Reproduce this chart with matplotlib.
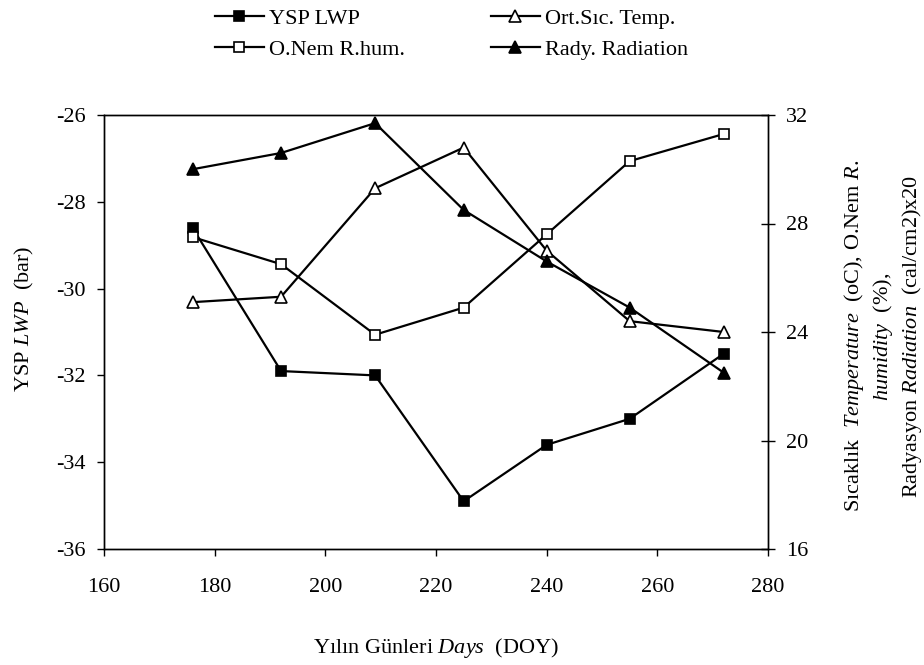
import matplotlib
matplotlib.use("Agg")
import matplotlib.pyplot as plt

plt.rcParams['font.family'] = ['Liberation Serif', 'DejaVu Serif']
plt.rcParams['mathtext.fontset'] = 'custom'
plt.rcParams['mathtext.rm'] = 'Liberation Serif'
plt.rcParams['mathtext.it'] = 'Liberation Serif:italic'
plt.rcParams['font.size'] = 16

# day of year
doy = [176, 192, 209, 225, 240, 255, 272]
# leaf water potential (bar), left axis
lwp = [-28.6, -31.9, -32.0, -34.9, -33.6, -33.0, -31.5]
# right axis series
temp = [25.1, 25.3, 29.3, 30.8, 27.0, 24.4, 24.0]
hum = [27.5, 26.5, 23.9, 24.9, 27.6, 30.3, 31.3]
rad = [30.0, 30.6, 31.7, 28.5, 26.6, 24.9, 22.5]

fig = plt.figure(figsize=(9.24, 6.65), dpi=100)
ax = fig.add_axes([104/924, 1 - 549/665, 664/924, 434/665])
ax2 = ax.twinx()

lw = 1.6
ms = 7.5
mew = 1.2
l1, = ax.plot(doy, lwp, color='black', lw=lw, marker='s', ms=ms,
              mfc='black', mec='black', mew=mew, label='YSP LWP')
l2, = ax2.plot(doy, hum, color='black', lw=lw, marker='s', ms=ms,
               mfc='white', mec='black', mew=mew, label='O.Nem R.hum.')
l3, = ax2.plot(doy, temp, color='black', lw=lw, marker='^', ms=ms + 1,
               mfc='white', mec='black', mew=mew, label='Ort.Sıc. Temp.')
l4, = ax2.plot(doy, rad, color='black', lw=lw, marker='^', ms=ms + 1,
               mfc='black', mec='black', mew=mew, label='Rady. Radiation')

ax.set_xlim(160, 280)
ax.set_ylim(-36, -26)
ax.set_xticks(range(160, 281, 20))
ax.set_yticks(range(-36, -25, 2))
ax.set_yticklabels([str(v) for v in range(-36, -25, 2)])
ax2.set_ylim(16, 32)
ax2.set_yticks([16, 20, 24, 28, 32])

ax.tick_params(axis='y', direction='out', length=5, width=1, pad=8)
ax.tick_params(axis='x', direction='out', length=5, width=1, pad=16)
ax2.tick_params(axis='y', direction='inout', length=9.5, width=1, pad=8)
for a in (ax, ax2):
    for s in a.spines.values():
        s.set_linewidth(1.0)

ax.set_xlabel(r'Yılın Günleri $\mathit{Days}$  (DOY)')
ax.xaxis.set_label_coords(0.5, -0.228)
ax.xaxis.label.set_va('center')

ax.set_ylabel(r'YSP $\mathit{LWP}$  (bar)')
ax.yaxis.set_label_coords(-0.119, 0.53)
ax.yaxis.label.set_va('center')

ax2.set_ylabel('Sıcaklık  $\\mathit{Temperature}$  (oC), O.Nem $\\mathit{R.}$\n'
               '$\\mathit{humidity}$  (%),\n'
               'Radyasyon $\\mathit{Radiation}$  (cal/cm2)x20',
               multialignment='center', linespacing=1.3)
ax2.yaxis.set_label_coords(1.173, 0.49)
ax2.yaxis.label.set_va('center')
ax2.yaxis.label.set_rotation(90)

fig.legend(handles=[l1, l2, l3, l4], ncol=2, frameon=False,
           loc='upper left', bbox_to_anchor=(215/924, 1 - 8/665),
           borderpad=0, borderaxespad=0, handlelength=2.2,
           handletextpad=0.25, columnspacing=3.85, labelspacing=0.5,
           fontsize=16)

fig.savefig('out.png', dpi=100)
